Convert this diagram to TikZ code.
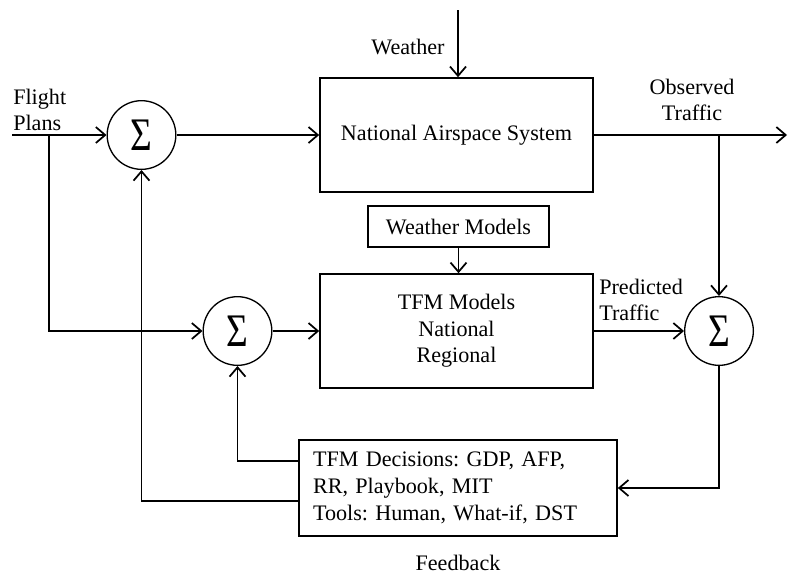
\documentclass[tikz,border=0pt]{standalone}
\usepackage{fontspec}
\setmainfont{Liberation Serif}
\usetikzlibrary{arrows.meta,positioning,calc}

\newcommand{\sumsym}{\scalebox{0.8}[1]{\fontsize{35}{35}\selectfont Σ}}

\begin{document}
\frenchspacing
\begin{tikzpicture}[
    x=0.75pt, y=-0.75pt,
    font=\fontsize{16.6}{20}\selectfont,
    block/.style={rectangle, draw, line width=1.2pt, minimum width=204.75pt, minimum height=85.5pt, align=center, inner sep=0pt},
    summer/.style={circle, draw, line width=1pt, minimum size=51.5pt, inner sep=0pt},
    tag/.style={align=center, inner sep=0pt},
    arrow/.style={-{Straight Barb[length=7pt,width=12pt]}, line width=1.3pt},
    wire/.style={line width=1.3pt}
]
\useasboundingbox (0,0) rectangle (788,576);

% main blocks
\node[block] (nas) at (456.5,135) {National Airspace System};
\node[block] (tfm) at (456.5,331) {TFM Models\\National\\Regional};
\node[rectangle, draw, line width=1.2pt, minimum width=135.75pt, minimum height=30.75pt, inner sep=0pt] (wm) at (458.5,226.5) {Weather Models};
\node[rectangle, draw, line width=1.2pt, align=left, text width=217.5pt, inner xsep=10.5pt, inner ysep=0pt, minimum height=72pt] (dec) at (458,488)
    {TFM Decisions: GDP, AFP,\\RR, Playbook, MIT\\Tools: Human, What-if, DST};

% summing junctions
\node[summer] (s1) at (141.5,135) {\sumsym};
\node[summer] (s2) at (237.5,331) {\sumsym};
\node[summer] (s3) at (719,331) {\sumsym};

% free ends
\coordinate (fp) at (12,135);
\coordinate (br) at (49,135);
\coordinate (wx) at (458,10);
\coordinate (out) at (787,135);

% labels
\node[tag] (wxlab) at (408,47) {Weather};
\node[tag, align=left, anchor=west] (fplab) at (13,110) {Flight\\Plans};
\node[tag] (obs) at (692,100) {Observed\\Traffic};
\node[tag, align=left, anchor=west] (pred) at (599,300) {Predicted\\Traffic};
\node[tag] (fb) at (458,563) {Feedback};

% connectors
\draw[arrow] (fp) -- (s1);
\draw[arrow] (br) |- (s2.west);
\draw[arrow] (s1) -- (nas);
\draw[arrow] (s2) -- (tfm);
\draw[arrow] (wx) -- (wx |- nas.north);
\draw[arrow] (wm) -- (wm |- tfm.north);
\draw[arrow] (nas) -- (out);
\draw[arrow] (s3 |- nas.east) -- (s3);
\draw[arrow] (tfm) -- (s3);
\draw[arrow] (s3) |- (dec.east);
\draw[arrow] ($(dec.west)+(0,-27)$) -| (s2.south);
\draw[arrow] ($(dec.west)+(0,13)$) -| (s1.south);

\end{tikzpicture}
\end{document}
